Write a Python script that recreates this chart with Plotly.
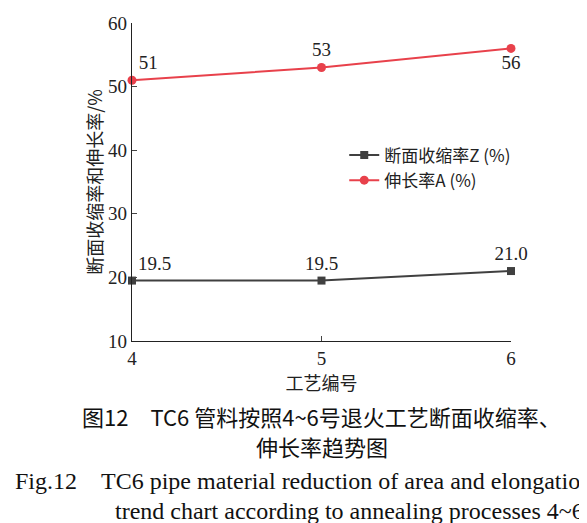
import plotly.graph_objects as go

x = [4, 5, 6]
z_vals = [19.5, 19.5, 21.0]
a_vals = [51, 53, 56]
z_labels = ["19.5", "19.5", "21.0"]
a_labels = ["51", "53", "56"]

serif = "Liberation Serif, Times New Roman, serif"
cjk = "Noto Sans CJK SC"

fig = go.Figure()
fig.add_trace(go.Scatter(x=x, y=z_vals, mode="lines+markers+text", name="断面收缩率Z (%)",
    line=dict(color="#404040", width=2), marker=dict(symbol="square", size=8, color="#404040"),
    text=z_labels, textposition=["top right", "top center", "top center"], cliponaxis=False,
    textfont=dict(family=serif, size=19, color="#222")))
fig.add_trace(go.Scatter(x=x, y=a_vals, mode="lines+markers+text", name="伸长率A (%)",
    line=dict(color="#e8414b", width=2), marker=dict(symbol="circle", size=9, color="#e8414b"),
    text=a_labels, textposition=["top right", "top center", "bottom center"], cliponaxis=False,
    textfont=dict(family=serif, size=19, color="#222")))

fig.update_layout(
    width=587, height=523, plot_bgcolor="white", paper_bgcolor="white",
    margin=dict(l=124, r=84, t=15, b=190, autoexpand=False),
    font=dict(family=serif, size=19, color="#222"),
    legend=dict(x=0.56, y=0.64, xanchor="left", yanchor="top", bgcolor="rgba(0,0,0,0)",
                font=dict(family=cjk, size=17)),
    xaxis=dict(range=[4, 6], tickvals=x, ticks="inside", ticklen=5, showgrid=False, automargin=False,
               showline=True, linecolor="#222", linewidth=1.2, zeroline=False,
               title=dict(text="工艺编号", font=dict(family=cjk, size=18), standoff=0)),
    yaxis=dict(range=[10, 60], dtick=10, ticks="inside", ticklen=5, showgrid=False, automargin=False,
               showline=True, linecolor="#222", linewidth=1.2, zeroline=False,
               title=dict(text="断面收缩率和伸长率/%", font=dict(family=cjk, size=18), standoff=0)),
)
common = dict(xref="paper", yref="paper", showarrow=False, yanchor="middle")
fig.add_annotation(text="图12　TC6 管料按照4~6号退火工艺断面收缩率、", x=0.5, y=-0.236, xanchor="center",
    font=dict(family=cjk, size=22, color="#111"), **common)
fig.add_annotation(text="伸长率趋势图", x=0.5, y=-0.33, xanchor="center",
    font=dict(family=cjk, size=22, color="#111"), **common)
fig.add_annotation(text="Fig.12　TC6 pipe material reduction of area and elongation", x=-0.313, y=-0.44,
    xanchor="left", font=dict(family=serif, size=24, color="#111"), **common)
fig.add_annotation(text="trend chart according to annealing processes 4~6", x=-0.05, y=-0.535,
    xanchor="left", font=dict(family=serif, size=24, color="#111"), **common)

fig.write_html("out.html")
